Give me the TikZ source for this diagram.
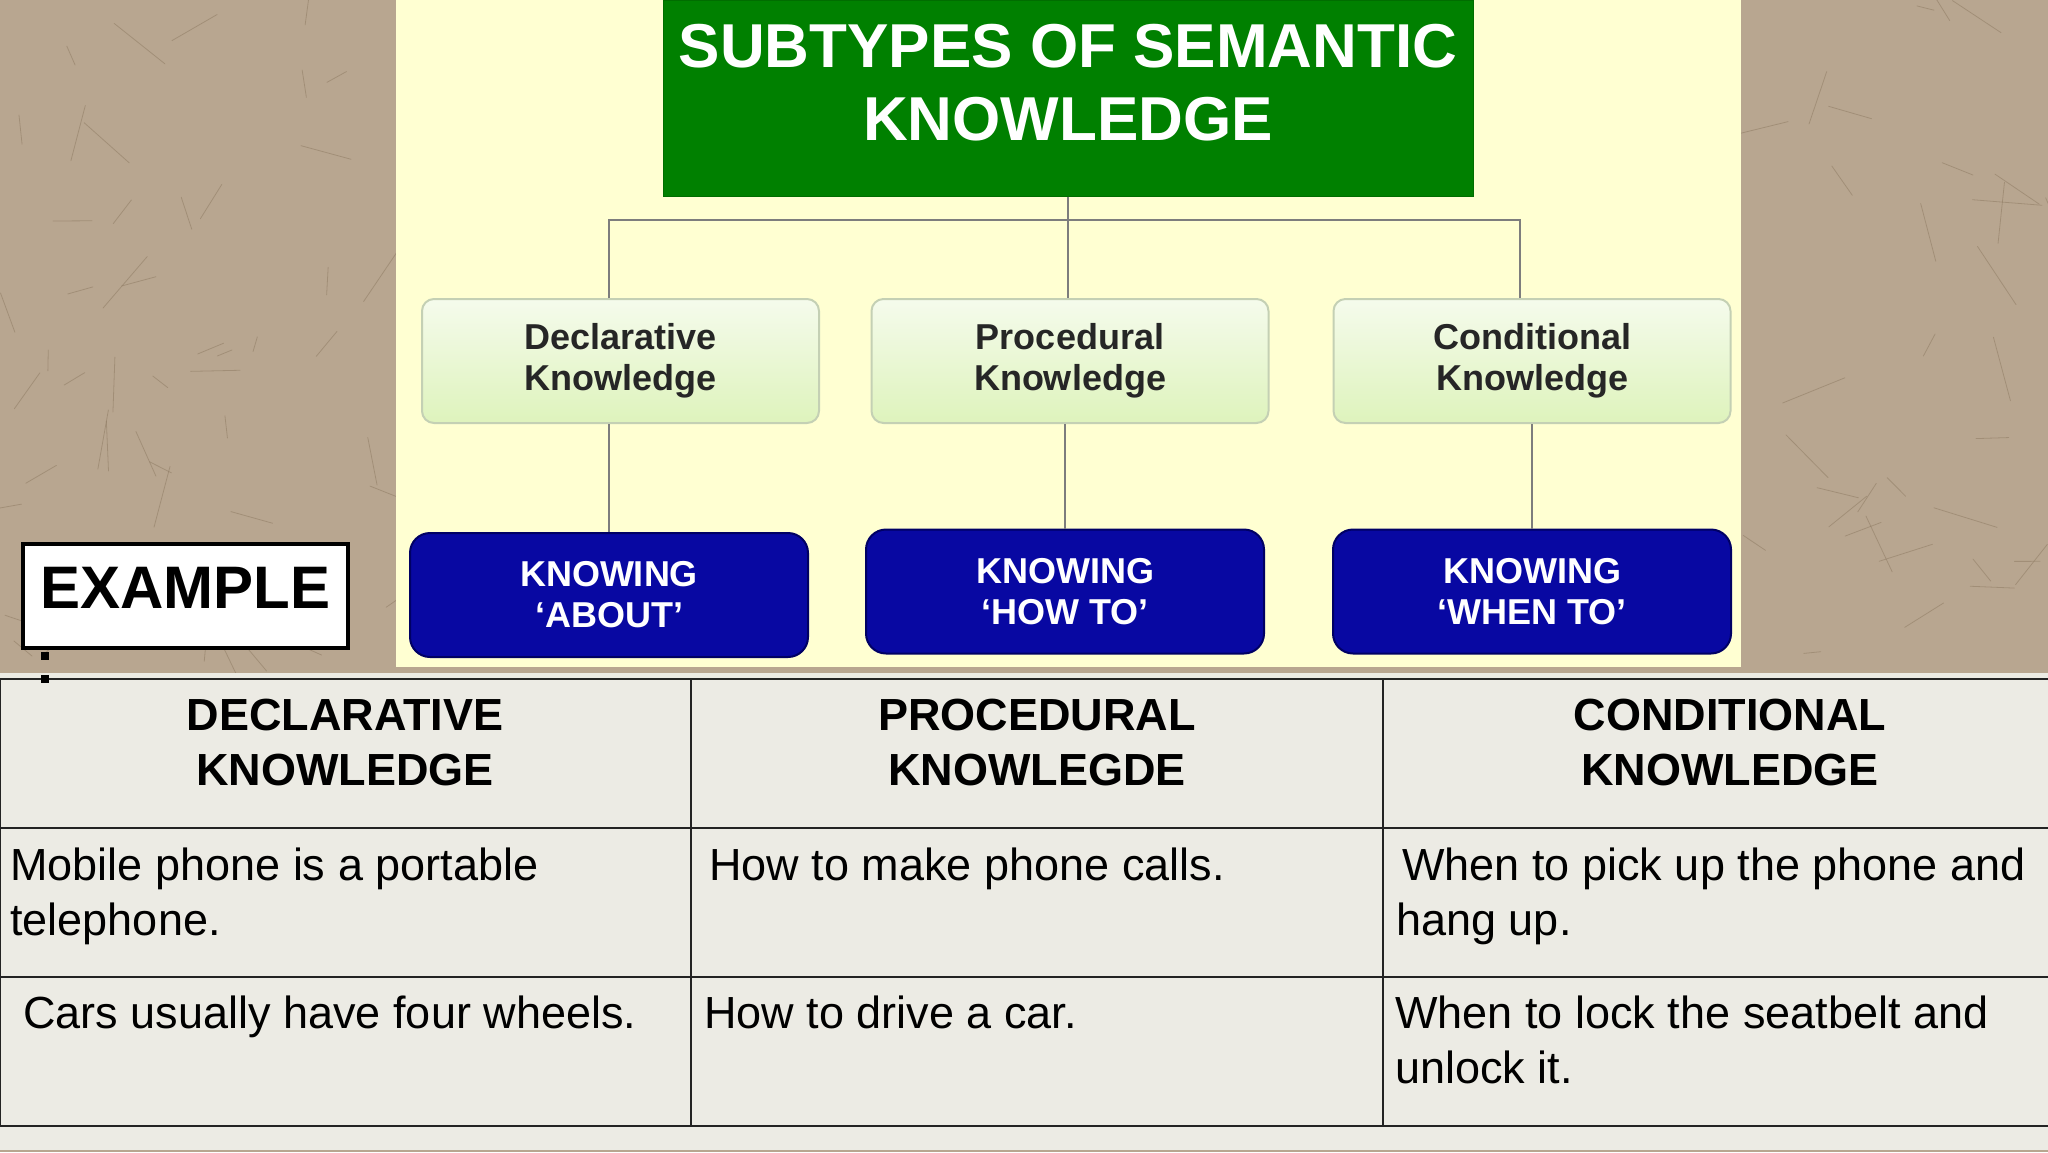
\documentclass[tikz,border=0pt]{standalone}
\usepackage{fontspec}
\setmainfont{Liberation Sans}
\definecolor{paper}{RGB}{184,166,144}
\definecolor{fibre}{RGB}{140,120,96}
\definecolor{panel}{RGB}{255,255,210}
\definecolor{titlegreen}{RGB}{0,128,0}
\definecolor{navy}{RGB}{8,8,162}
\definecolor{navyedge}{RGB}{0,0,100}
\definecolor{lgtop}{RGB}{245,251,236}
\definecolor{lgbot}{RGB}{222,243,188}
\definecolor{lgedge}{RGB}{196,208,180}
\definecolor{tablebg}{RGB}{236,235,228}
\definecolor{rulec}{RGB}{35,35,35}
\definecolor{connc}{RGB}{125,125,125}
\tikzset{
  titlebox/.style={fill=titlegreen, draw=titlegreen!85!black, line width=0.5pt,
    minimum width=405pt, minimum height=98pt, inner sep=0pt},
  titletext/.style={text=white, font=\fontsize{31}{36.5}\bfseries, align=center, inner sep=0pt},
  subbox/.style={rounded corners=6pt, draw=lgedge, line width=1pt, top color=lgtop, bottom color=lgbot,
    minimum width=198.5pt, minimum height=62pt, inner sep=0pt,
    font=\fontsize{18}{20.5}\bfseries, text=black!85, align=center},
  knowbox/.style={rounded corners=10pt, fill=navy, draw=navyedge, line width=1pt,
    minimum width=199pt, minimum height=62pt, inner sep=0pt,
    font=\fontsize{18}{20.5}\bfseries, text=white, align=center},
  link/.style={draw=connc, line width=1pt},
  examplebox/.style={fill=white, draw=black, line width=2pt, minimum width=162.5pt,
    minimum height=52pt, inner sep=0pt, text depth=8pt, font=\fontsize{30}{36}\bfseries},
  hrule/.style={draw=rulec, line width=1.4pt},
  vrule/.style={draw=rulec, line width=0.7pt},
  cellhead/.style={font=\fontsize{22.5}{27.5}\bfseries, align=center, inner sep=0pt},
  cellbody/.style={font=\fontsize{22.5}{27.5}\selectfont, align=left, anchor=north west, inner sep=0pt},
  fibreline/.style={draw=fibre, line width=0.4pt, opacity=0.5, line cap=round}
}
\begin{document}
\begin{tikzpicture}[x=0.5pt,y=-0.5pt]
\useasboundingbox (0,0) rectangle (2048,1152);
% paper background
\fill[paper] (0,0) rectangle (2048,1152);
\begin{scope}
  \clip (0,0) rectangle (396,673) (1741,0) rectangle (2048,673);
  \pgfmathsetseed{12}
  \foreach \i in {1,...,220}{
    \pgfmathsetmacro\xa{rnd*2048}
    \pgfmathsetmacro\ya{rnd*673}
    \pgfmathsetmacro\ang{rnd*360}
    \pgfmathsetmacro\len{15+rnd*55}
    \draw[fibreline] (\xa,\ya) -- ++(\ang:\len);
  }
\end{scope}
% yellow panel
\fill[panel] (396,0) rectangle (1741,667);
% title
\node[titlebox] (title) at (1068,98) {};
\node[titletext] (titletxt) at ([yshift=7.5pt]title.center) {SUBTYPES OF SEMANTIC\\KNOWLEDGE};
% second level
\node[subbox] (d1) at (620.5,361) {Declarative\\Knowledge};
\node[subbox] (p1) at (1070,361) {Procedural\\Knowledge};
\node[subbox] (c1) at (1532,361) {Conditional\\Knowledge};
% third level
\node[knowbox] (k1) at (609,595) {KNOWING\\‘ABOUT’};
\node[knowbox] (k2) at (1065,591.5) {KNOWING\\‘HOW TO’};
\node[knowbox] (k3) at (1532,591.5) {KNOWING\\‘WHEN TO’};
% connectors
\coordinate (bar) at (1068,220);
\coordinate (barR) at (1520,220);
\draw[link] (title.south) -- (bar);
\draw[link] (k1.north |- d1.north) |- (bar) -- (barR) -- (barR |- c1.north);
\draw[link] (bar) -- (bar |- p1.north);
\draw[link] (d1.south -| k1.north) -- (k1.north);
\draw[link] (p1.south -| k2.north) -- (k2.north);
\draw[link] (c1.south -| k3.north) -- (k3.north);
% table
\fill[tablebg] (0,673) rectangle (2048,1150);
\draw[hrule] (0,679) -- (2048,679);
\draw[hrule] (0,828) -- (2048,828);
\draw[hrule] (0,977) -- (2048,977);
\draw[hrule] (0,1126) -- (2048,1126);
\draw[vrule] (0.5,679) -- (0.5,1126);
\draw[vrule] (691,679) -- (691,1126);
\draw[vrule] (1383,679) -- (1383,1126);
\node[cellhead] (h1) at (345,742) {DECLARATIVE\\KNOWLEDGE};
\node[cellhead] (h2) at (1037,742) {PROCEDURAL\\KNOWLEGDE};
\node[cellhead] (h3) at (1730,742) {CONDITIONAL\\KNOWLEDGE};
\node[cellbody] (b11) at (10,847) {Mobile phone is a portable\\telephone.};
\node[cellbody] (b12) at (709,847) {How to make phone calls.};
\node[cellbody] (b13) at (1396,847) {\hspace*{3pt}When to pick up the phone and\\hang up.};
\node[cellbody] (b21) at (23,995) {Cars usually have four wheels.};
\node[cellbody] (b22) at (704,995) {How to drive a car.};
\node[cellbody] (b23) at (1395,995) {When to lock the seatbelt and\\unlock it.};
% example label
\node[examplebox] (ex) at (185.5,596) {EXAMPLE};
\fill[black] (41,652) rectangle (49,660);
\fill[black] (41,675) rectangle (49,683);
\end{tikzpicture}
\end{document}
